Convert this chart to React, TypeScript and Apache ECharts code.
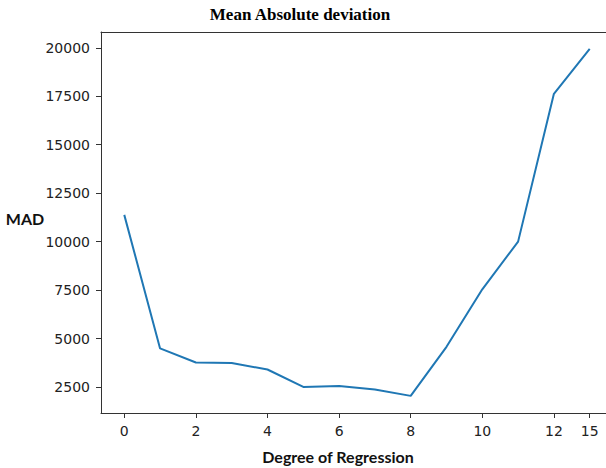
import React, { useEffect, useRef } from "react";
import * as echarts from "echarts";

const degrees = [0, 1, 2, 3, 4, 5, 6, 7, 8, 9, 10, 11, 12, 15];
const madValues = [11380, 4490, 3760, 3740, 3400, 2500, 2550, 2370, 2040, 4570, 7540, 10000, 17630, 19950];
const xTickDegrees = [0, 2, 4, 6, 8, 10, 12, 15];
const yTickValues = [2500, 5000, 7500, 10000, 12500, 15000, 17500, 20000];

export default function App() {
  const ref = useRef<HTMLDivElement>(null);
  useEffect(() => {
    if (!ref.current) return;
    const chart = echarts.init(ref.current, undefined, { renderer: "svg" });
    const xTickIdx = xTickDegrees.map((d) => degrees.indexOf(d));
    const axisColor = "#333";
    const labelStyle = { fontFamily: "DejaVu Sans", fontSize: 14, color: "#222" };
    const xMin = -0.65;
    const xMax = 13.455;
    chart.setOption({
      animation: false,
      backgroundColor: "#fff",
      grid: {
        left: 101,
        right: 0,
        top: 32,
        bottom: 55,
        show: false,
        containLabel: false,
      },
      xAxis: [
        {
          type: "value",
          min: xMin,
          max: xMax,
          splitLine: { show: false },
          axisLine: { show: true, onZero: false, lineStyle: { color: axisColor, width: 1 } },
          axisTick: { show: true, length: 5, lineStyle: { color: axisColor }, customValues: xTickIdx },
          axisLabel: {
            ...labelStyle,
            margin: 11,
            customValues: xTickIdx,
            formatter: (v: number) => String(degrees[Math.round(v)]),
          },
        },
        {
          type: "value",
          position: "top",
          min: xMin,
          max: xMax,
          splitLine: { show: false },
          axisLine: { show: true, onZero: false, lineStyle: { color: axisColor, width: 1 } },
          axisTick: { show: false },
          axisLabel: { show: false },
        },
      ],
      yAxis: {
        type: "value",
        min: 1156,
        max: 20817,
        splitLine: { show: false },
        axisLine: { show: true, onZero: false, lineStyle: { color: axisColor, width: 1 } },
        axisTick: { show: true, length: 5, lineStyle: { color: axisColor }, customValues: yTickValues },
        axisLabel: {
          ...labelStyle,
          margin: 11,
          customValues: yTickValues,
          formatter: (v: number) => String(Math.round(v)),
        },
      },
      series: [
        {
          type: "line",
          xAxisIndex: 0,
          data: madValues.map((v, i) => [i, v]),
          showSymbol: false,
          symbol: "none",
          lineStyle: { color: "#1f77b4", width: 2 },
        },
      ],
      graphic: [
        {
          type: "text",
          x: 300,
          y: 14,
          style: {
            text: "Mean Absolute deviation",
            font: "bold 17px 'Liberation Serif'",
            fill: "#000",
            textAlign: "center",
            textVerticalAlign: "middle",
          },
        },
        {
          type: "text",
          x: 25,
          y: 218,
          style: {
            text: "MAD",
            font: "bold 16px Lato",
            fill: "#111",
            textAlign: "center",
            textVerticalAlign: "middle",
          },
        },
        {
          type: "text",
          x: 338,
          y: 456,
          style: {
            text: "Degree of Regression",
            font: "bold 16px Lato",
            fill: "#111",
            textAlign: "center",
            textVerticalAlign: "middle",
          },
        },
      ],
    });
    return () => chart.dispose();
  }, []);
  return <div ref={ref} style={{ width: 606, height: 468, position: "fixed", left: 0, top: 0 }} />;
}
